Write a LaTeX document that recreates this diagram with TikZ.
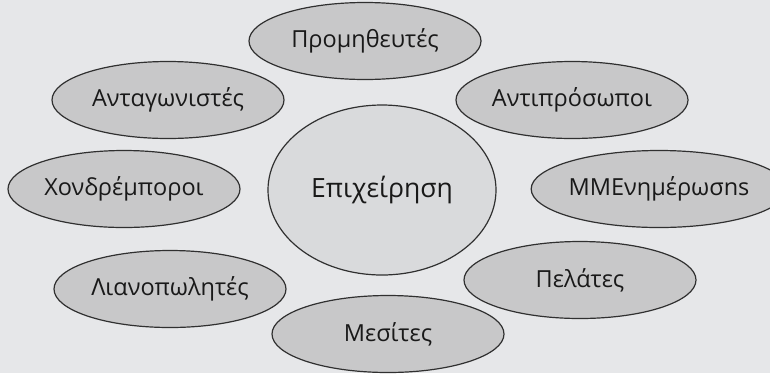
\documentclass[tikz,border=0pt]{standalone}
\usepackage{fontspec}
\setmainfont{Open Sans}
\usepackage{tikz}
\usetikzlibrary{shapes.geometric}
\definecolor{bgray}{HTML}{E6E7E9}
\definecolor{ovgray}{HTML}{C8C8C9}
\definecolor{ctgray}{HTML}{D9DADC}
\definecolor{edge}{HTML}{303030}

\begin{document}
\begin{tikzpicture}[x=1pt, y=-1pt, font=\fontsize{23.5}{26}\selectfont,
  ov/.style={ellipse, draw=edge, line width=1.2pt, fill=ovgray, inner sep=0pt,
    minimum width=232pt, minimum height=77pt, text=black!90},
  firm/.style={ov, fill=ctgray, minimum width=228pt, minimum height=170pt,
    font=\fontsize{26.5}{29}\selectfont}]
\useasboundingbox[fill=bgray] (0,0) rectangle (770,373);
\node[ov] (sup)   at (365,41)  {Προμηθευτές};
\node[ov] (comp)  at (168,100) {Ανταγωνιστές};
\node[ov] (rep)   at (572,100) {Αντιπρόσωποι};
\node[ov] (whol)  at (124,189) {Χονδρέμποροι};
\node[ov, minimum width=226pt] (media) at (659,189) {ΜΜΕνημέρωσns};
\node[ov] (ret)   at (170,289) {Λιανοπωλητές};
\node[ov] (cust)  at (580,280) {Πελάτες};
\node[ov] (brok)  at (388,334) {Μεσίτες};
\node[firm] (biz) at (382,190) {Επιχείρηση};
\end{tikzpicture}
\end{document}
